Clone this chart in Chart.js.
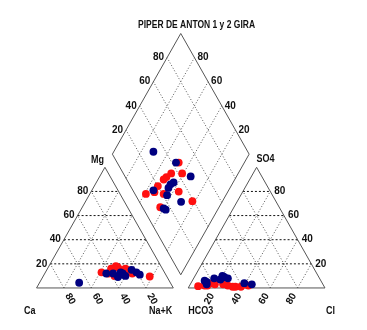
<!DOCTYPE html>
<html lang="es">
<head>
<meta charset="UTF-8">
<title>Piper de Anton</title>
<script src="https://cdn.jsdelivr.net/npm/chart.js"></script>
<style>
  html, body { margin: 0; padding: 0; background: #fff; }
  .wrap { width: 367px; height: 330px; position: relative; }
</style>
</head>
<body>
<div class="wrap"><canvas id="piper"></canvas></div>
<script>
// % meq/L — gira 1 (rojo) y gira 2 (azul)
const ticks = [20, 40, 60, 80];

const redCa  = [38, 26, 32, 33, 38, 37.5, 24, 41.5, 31, 46, 12.5, 27];
const redMg  = [10, 15, 17, 18, 14, 16, 12, 12, 15, 13, 9.5, 16];
const redCl  = [43, 40, 34, 28, 24, 16, 32, 13, 18, 6.5, 38, 11];
const redSO4 = [2, 3, 1, 2, 3, 4, 1, 2, 3, 1.5, 1, 2];

const blueCa  = [66.7, 38, 20.5, 32.5, 36, 32, 43, 31, 19, 30, 23];
const blueMg  = [4.3, 12, 13, 11, 9, 13, 12, 12, 11, 10, 15];
const blueCl  = [22, 39, 45, 25, 20, 20, 9, 15, 21.5, 12, 11];
const blueSO4 = [9, 4, 3, 8, 10, 7, 6, 8, 9, 3, 5];

// geometria del diagrama (lado del triangulo = 100)
const S3 = Math.sqrt(3) / 2;
const GAP = 10.9;
const B = { x: 100 + GAP / 2, y: GAP * S3 };

function cation(ca, mg) { return { x: 100 - ca - mg / 2, y: mg * S3 }; }
function anion(cl, so4) { return { x: 100 + GAP + cl + so4 / 2, y: so4 * S3 }; }
// nak = Na+K %, cs = Cl+SO4 %
function diamond(nak, cs) {
    return { x: B.x + 0.5 * (cs + nak - 100), y: B.y + S3 * (cs + 100 - nak) };
}

function samplePoints(ca, mg, cl, so4) {
    let pts = [];
    ca.forEach((c, i) => {
        let nak = 100 - c - mg[i];
        let cs = cl[i] + so4[i];
        pts.push(cation(c, mg[i]));
        pts.push(anion(cl[i], so4[i]));
        pts.push(diamond(nak, cs));
    });
    return pts;
}

let datasets = [];
function seg(a, b, style) {
    datasets.push(Object.assign({
        type: 'line', data: [a, b], showLine: true, pointRadius: 0,
        borderWidth: 1, fill: false, order: 10
    }, style));
}
const outline = { borderColor: '#555' };
const hGrid = { borderColor: '#111', borderDash: [2, 2] };
const oGrid = { borderColor: '#555', borderDash: [1, 2] };

// contornos
seg(cation(100, 0), cation(0, 0), outline);
seg(cation(0, 0), cation(0, 100), outline);
seg(cation(0, 100), cation(100, 0), outline);
seg(anion(0, 0), anion(100, 0), outline);
seg(anion(100, 0), anion(0, 100), outline);
seg(anion(0, 100), anion(0, 0), outline);
seg(diamond(100, 0), diamond(100, 100), outline);
seg(diamond(100, 100), diamond(0, 100), outline);
seg(diamond(0, 100), diamond(0, 0), outline);
seg(diamond(0, 0), diamond(100, 0), outline);

ticks.forEach(t => {
    // cationes
    seg(cation(100 - t, t), cation(0, t), hGrid);
    seg(cation(t, 0), cation(t, 100 - t), oGrid);
    seg(cation(100 - t, 0), cation(0, 100 - t), oGrid);
    // aniones
    seg(anion(0, t), anion(100 - t, t), hGrid);
    seg(anion(t, 0), anion(t, 100 - t), oGrid);
    seg(anion(100 - t, 0), anion(0, 100 - t), oGrid);
    // rombo
    seg(diamond(100, t), diamond(0, t), oGrid);
    seg(diamond(100 - t, 0), diamond(100 - t, 100), oGrid);
});

datasets.push({
    type: 'scatter', data: samplePoints(redCa, redMg, redCl, redSO4),
    backgroundColor: '#ff1010', borderWidth: 0, pointRadius: 3.9, order: 2
});
datasets.push({
    type: 'scatter', data: samplePoints(blueCa, blueMg, blueCl, blueSO4),
    backgroundColor: '#000080', borderWidth: 0, pointRadius: 3.9, order: 1
});

const FONT = 'bold 10px "Liberation Sans", Arial, sans-serif';

function txt(ctx, s, px, py, align, rot, off, sx) {
    ctx.save();
    ctx.translate(px, py);
    if (rot) ctx.rotate(rot);
    ctx.translate(off || 0, 0);
    ctx.scale(sx || 1, 1);
    ctx.textAlign = align;
    ctx.fillText(s, 0, 0);
    ctx.restore();
}

const labelsPlugin = {
    id: 'piperLabels',
    beforeDatasetsDraw(chart) {
        const ctx = chart.ctx;
        const X = chart.scales.x, Y = chart.scales.y;
        const P = p => [X.getPixelForValue(p.x), Y.getPixelForValue(p.y)];
        ctx.save();
        ctx.fillStyle = '#111';
        ctx.font = FONT;
        ctx.textBaseline = 'middle';

        ticks.forEach(t => {
            let p;
            p = P(cation(100 - t, t)); txt(ctx, String(t), p[0], p[1], 'right', 0, -3);
            p = P(cation(t, 0));       txt(ctx, String(t), p[0], p[1], 'left', Math.PI / 3, 7);
            p = P(anion(t, 0));        txt(ctx, String(t), p[0], p[1], 'right', -Math.PI / 3, -7);
            p = P(anion(100 - t, t));  txt(ctx, String(t), p[0], p[1], 'left', 0, 4);
            p = P(diamond(0, t));      txt(ctx, String(t), p[0], p[1], 'right', 0, -3);
            p = P(diamond(100 - t, 100)); txt(ctx, String(t), p[0], p[1], 'left', 0, 3);
        });

        let p;
        p = P(cation(0, 100));  txt(ctx, 'Mg', p[0] - 1, p[1] - 7, 'right', 0, 0, 0.9);
        p = P(anion(0, 100));   txt(ctx, 'SO4', p[0], p[1] - 8, 'left', 0, 0, 0.9);
        p = P(cation(100, 0));  txt(ctx, 'Ca', p[0] - 1, p[1] + 23, 'right', 0, 0, 0.9);
        p = P(cation(0, 0));    txt(ctx, 'Na+K', p[0] - 1, p[1] + 23, 'right', 0, 0, 0.9);
        p = P(anion(0, 0));     txt(ctx, 'HCO3', p[0], p[1] + 23, 'left', 0, 0, 0.9);
        p = P(anion(100, 0));   txt(ctx, 'Cl', p[0] + 1, p[1] + 23, 'left', 0, 0, 0.9);

        // titulo
        p = P({ x: 117, y: diamond(0, 100).y + 6 });
        txt(ctx, 'PIPER DE ANTON 1 y 2 GIRA', p[0], p[1], 'center', 0, 0, 0.85);
        ctx.restore();
    }
};

new Chart(document.getElementById('piper'), {
    type: 'scatter',
    data: { datasets: datasets },
    options: {
        responsive: true,
        maintainAspectRatio: false,
        animation: false,
        events: [],
        layout: { padding: 0 },
        plugins: { legend: { display: false }, tooltip: { enabled: false } },
        scales: {
            x: { type: 'linear', display: false, min: -23.8, max: 238.7 },
            y: { type: 'linear', display: false, min: -27.3, max: 203.8 }
        }
    },
    plugins: [labelsPlugin]
});
</script>
</body>
</html>
